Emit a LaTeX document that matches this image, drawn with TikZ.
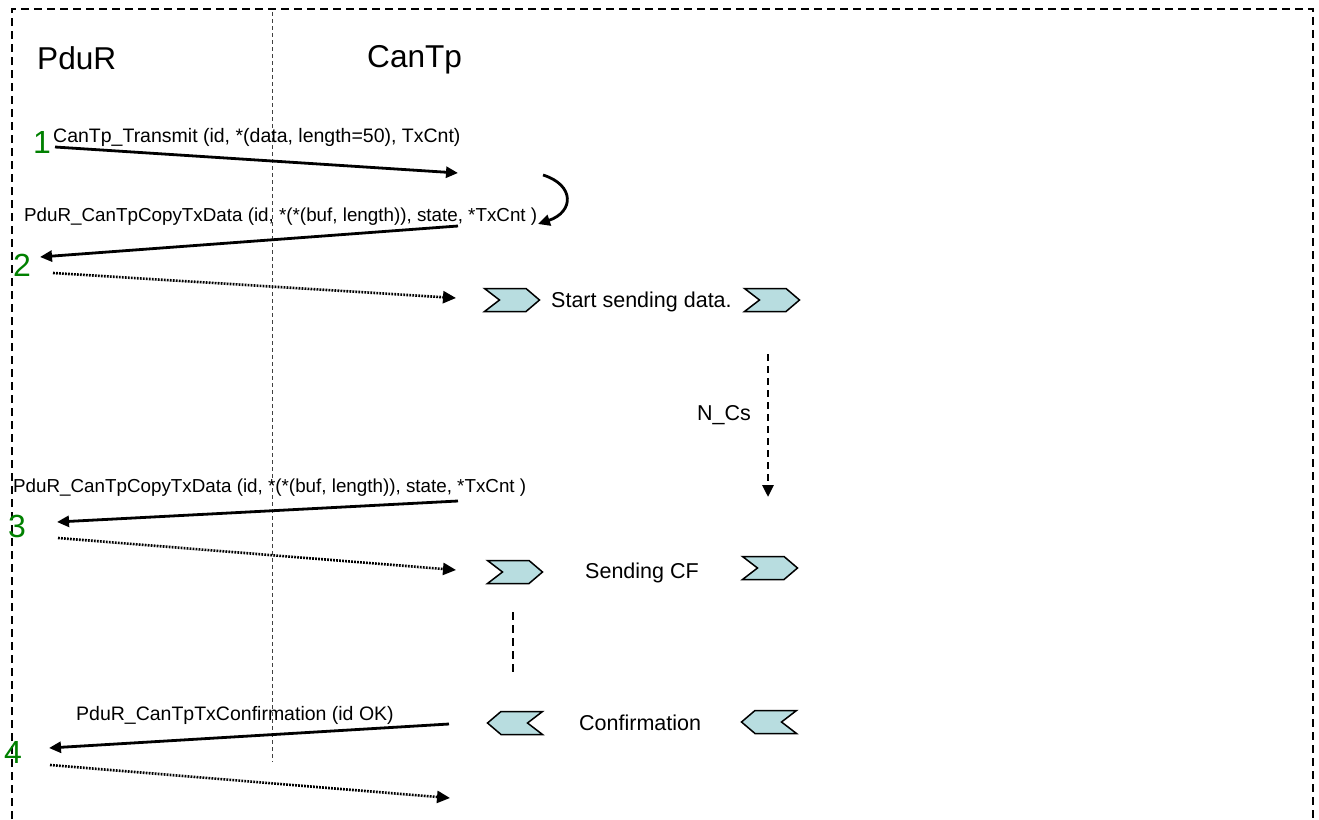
\documentclass[tikz,border=0pt]{standalone}
\usepackage{fontspec}
\setmainfont{Liberation Sans}
\usetikzlibrary{arrows.meta}
\definecolor{chevfill}{RGB}{184,221,224}
\definecolor{numgreen}{RGB}{0,128,0}
\tikzset{
	chevR/.pic={\draw[chev] (-27.5,-11.5) -- (14,-11.5) -- (27.5,0) -- (14,11.5) -- (-27.5,11.5) -- (-12.5,0) -- cycle;},
	chevL/.pic={\draw[chev] (27.5,-11.5) -- (-14,-11.5) -- (-27.5,0) -- (-14,11.5) -- (27.5,11.5) -- (12.5,0) -- cycle;}
}
\begin{document}
\begin{tikzpicture}[x=1pt,y=-1pt,
		msg/.style={line width=2.8pt,-{Triangle[length=12pt,width=11pt]}},
		ret/.style={line width=2.6pt,dash pattern=on 1.8pt off 1.2pt,-{Triangle[length=13pt,width=12pt]}},
		lbl/.style={anchor=base west,inner sep=0pt,font=\fontsize{19.5}{22}\selectfont},
		num/.style={anchor=base,inner sep=0pt,text=numgreen,font=\fontsize{32}{36}\selectfont},
		head/.style={anchor=base west,inner sep=0pt,font=\fontsize{31.6}{36}\selectfont},
		state/.style={anchor=base west,inner sep=0pt,font=\fontsize{21.5}{24}\selectfont},
		chev/.style={draw,fill=chevfill,line width=1.5pt,line join=miter}]
	\useasboundingbox (0,0) rectangle (1319,819);
	%	khung
	\draw[line width=1.8pt,dash pattern=on 8pt off 5pt] (12,819) -- (12,9) -- (1313,9) -- (1313,819);
	\draw[line width=1pt,dash pattern=on 4pt off 3pt,black!75] (272,12) -- (272,762);
	\node[head] (pdur) at (37,69) {PduR};
	\node[head] (cantp) at (367,67) {CanTp};
	
	%	buoc 1
	\node[num] (n1) at (42,153) {1};
	\node[lbl] (t1) at (53,142) {CanTp\_Transmit (id, *(data, length=50), TxCnt)};
	\coordinate (p1) at (55,147);
	\coordinate (c1) at (458,173);
	\draw[msg] (p1) -- (c1);
	\coordinate (c1a) at (543,175);
	\coordinate (c1b) at (538,224);
	\draw[msg] (c1a) .. controls (575,185) and (574,212) .. (c1b);
	
	%	buoc 2
	\node[lbl,font=\fontsize{18.8}{22}\selectfont] (t2) at (24,221) {PduR\_CanTpCopyTxData (id, *(*(buf, length)), state, *TxCnt )};
	\coordinate (c2) at (458,226);
	\coordinate (p2) at (40,257);
	\draw[msg] (c2) -- (p2);
	\node[num] (n2) at (22,276) {2};
	\coordinate (p2a) at (53,273);
	\coordinate (c2a) at (456,298);
	\draw[ret] (p2a) -- (c2a);
	\pic (s1) at (512,300) {chevR};
	\node[state] (ts1) at (551,307) {Start sending data.};
	\pic (s2) at (772,300) {chevR};
	
	%	N_Cs
	\coordinate (ncs1) at (768,354);
	\coordinate (ncs2) at (768,497);
	\draw[line width=2.8pt,dash pattern=on 7pt off 5pt,-{Triangle[length=12pt,width=11pt]}] (ncs1) -- (ncs2);
	\node[state] (tncs) at (697,420) {N\_Cs};
	
	%	buoc 3
	\node[lbl,font=\fontsize{18.8}{22}\selectfont] (t3) at (13,492) {PduR\_CanTpCopyTxData (id, *(*(buf, length)), state, *TxCnt )};
	\coordinate (c3) at (458,501);
	\coordinate (p3) at (57,522);
	\draw[msg] (c3) -- (p3);
	\node[num] (n3) at (17,537) {3};
	\coordinate (p3a) at (58,538);
	\coordinate (c3a) at (456,570);
	\draw[ret] (p3a) -- (c3a);
	\pic (s3) at (515,572) {chevR};
	\node[state] (ts3) at (585,578) {Sending CF};
	\pic (s4) at (770,568) {chevR};
	\coordinate (d1) at (513,612);
	\coordinate (d2) at (513,676);
	\draw[line width=1.8pt,dash pattern=on 8pt off 5pt] (d1) -- (d2);
	
	%	buoc 4
	\node[lbl] (t4) at (76,720) {PduR\_CanTpTxConfirmation (id OK)};
	\coordinate (c4) at (449,724);
	\coordinate (p4) at (49,748);
	\draw[msg] (c4) -- (p4);
	\node[num] (n4) at (13,763) {4};
	\coordinate (p4a) at (50,765);
	\coordinate (c4a) at (450,798);
	\draw[ret] (p4a) -- (c4a);
	\pic (s5) at (515,723) {chevL};
	\node[state] (ts5) at (579,730) {Confirmation};
	\pic (s6) at (769,722) {chevL};
\end{tikzpicture}
\end{document}
